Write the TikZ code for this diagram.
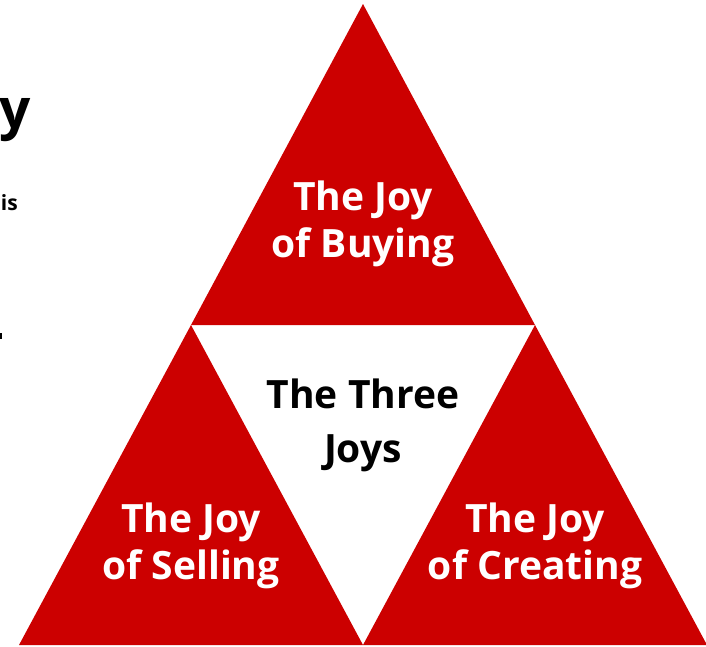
\documentclass[tikz,border=0pt]{standalone}
\usepackage{fontspec}
\setmainfont{Open Sans}
\usetikzlibrary{positioning}
\definecolor{joyred}{HTML}{CC0000}
\tikzset{joy/.style={fill=joyred,draw=none}, every node/.style={inner sep=0pt,font=\bfseries}}
\tikzset{joytext/.style={white,align=center,font=\bfseries\fontsize{39}{47}\selectfont}}

\begin{document}
\begin{tikzpicture}[x=1pt,y=-1pt]
  \useasboundingbox (0,0) rectangle (706,646);
  % corners of the big triangle
  \coordinate (top) at (363,4);
  \coordinate (midl) at (191,325);
  \coordinate (midr) at (535,325);
  \coordinate (botl) at (19,645);
  \coordinate (botm) at (363,645);
  \coordinate (botr) at (707,645);
  \fill[joy] (top) -- (midl) -- (midr) -- cycle;
  \fill[joy] (midl) -- (botl) -- (botm) -- cycle;
  \fill[joy] (midr) -- (botm) -- (botr) -- cycle;
  \node[joytext] (buying) at (363,224) {The Joy\\of Buying};
  \node[joytext] (selling) at (191,546) {The Joy\\of Selling};
  \node[joytext] (creating) at (535,546) {The Joy\\of Creating};
  \node[joytext,black,font=\bfseries\fontsize{39}{54}\selectfont] (three) at (363,425) {The Three\\Joys};
  % cut-off text on the left
  \node[anchor=base east,font=\bfseries\fontsize{55}{60}\selectfont] (ytxt) at (31,128) {y};
  \node[anchor=base east,font=\bfseries\fontsize{21}{24}\selectfont] (istxt) at (18,210) {is};
  \fill (0,333) rectangle (2,339);
\end{tikzpicture}
\end{document}
